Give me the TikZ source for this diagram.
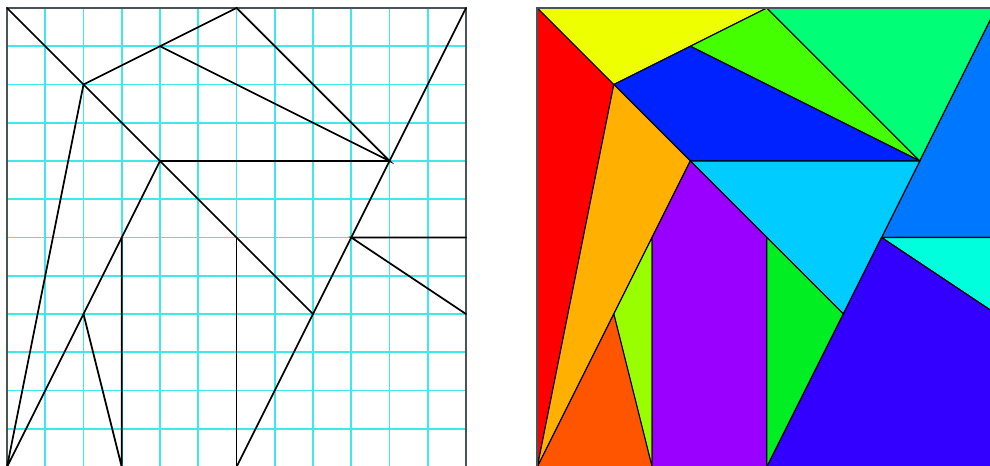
\documentclass[tikz,border=0pt]{standalone}
\usetikzlibrary{calc}

\definecolor{gridcyan}{HTML}{40E8E8}
\definecolor{framegray}{HTML}{4A5454}
\definecolor{pRed}{HTML}{FF0000}
\definecolor{pYellow}{HTML}{EEFF00}
\definecolor{pLime}{HTML}{44FF00}
\definecolor{pSpring}{HTML}{00FF77}
\definecolor{pBlue}{HTML}{0022FF}
\definecolor{pAzure}{HTML}{0077FF}
\definecolor{pAqua}{HTML}{00FFDD}
\definecolor{pSky}{HTML}{00CCFF}
\definecolor{pOrange}{HTML}{FFB000}
\definecolor{pChart}{HTML}{99FF00}
\definecolor{pDarkOrange}{HTML}{FF5500}
\definecolor{pPurple}{HTML}{9900FF}
\definecolor{pGreen}{HTML}{00EE22}
\definecolor{pIndigo}{HTML}{3300FF}

% the vertices of the crease pattern, on a 12x12 grid
\newcommand{\creasepoints}{%
  \foreach \n/\x/\y in {A/0/12, B/6/12, C/12/12, D/2/10, E/4/11, F/10/8,
      G/4/8, H/9/6, I/12/6, J/12/4, K/8/4, L/0/0, M/2/4, N/3/6, P/3/0,
      Q/6/6, R/6/0, S/12/0}
    \coordinate (\n) at (\x,\y);%
}

\tikzset{
  crease/.style={black, line width=1.3pt, line cap=round},
  frame/.style={framegray, line width=1.6pt},
  gridline/.style={gridcyan, line width=1.2pt},
  piece/.style={draw=black, line width=0.8pt, line join=round}
}

\begin{document}
\begin{tikzpicture}
    \useasboundingbox (-0.183,0.052) rectangle (25.699,12.209);
    \clip (-0.183,0.052) rectangle (25.699,12.209);

    % Left: the crease pattern on its grid
    \begin{scope}
        \creasepoints
        \foreach \k in {1,...,11} {
            \draw[gridline] (\k,0) -- (\k,12);
            \draw[gridline] (0,\k) -- (12,\k);
        }
        \draw[frame] (L) rectangle (C);

        % Draw the creases
        \draw[crease] (A) -- (K);
        \draw[crease] (D) -- (B) -- (F) -- (E);
        \draw[crease] (C) -- (R);
        \draw[crease] (G) -- (F);
        \draw[crease] (D) -- (L) -- (G);
        \draw[crease] (M) -- (P) -- (N);
        \draw[crease] (Q) -- (R);
        \draw[crease] (I) -- (H) -- (J);
    \end{scope}

    % Right: the same pattern, one colour per face
    \begin{scope}[shift={(13.864,0)}]
        \creasepoints
        \filldraw[piece, fill=pRed] (A) -- (D) -- (L) -- cycle;
        \filldraw[piece, fill=pYellow] (A) -- (B) -- (D) -- cycle;
        \filldraw[piece, fill=pLime] (E) -- (B) -- (F) -- cycle;
        \filldraw[piece, fill=pSpring] (B) -- (C) -- (F) -- cycle;
        \filldraw[piece, fill=pBlue] (D) -- (E) -- (F) -- (G) -- cycle;
        \filldraw[piece, fill=pAzure] (F) -- (C) -- (I) -- (H) -- cycle;
        \filldraw[piece, fill=pAqua] (H) -- (I) -- (J) -- cycle;
        \filldraw[piece, fill=pSky] (G) -- (F) -- (K) -- cycle;
        \filldraw[piece, fill=pOrange] (D) -- (G) -- (L) -- cycle;
        \filldraw[piece, fill=pChart] (M) -- (N) -- (P) -- cycle;
        \filldraw[piece, fill=pDarkOrange] (L) -- (M) -- (P) -- cycle;
        \filldraw[piece, fill=pPurple] (G) -- (N) -- (P) -- (R) -- (Q) -- cycle;
        \filldraw[piece, fill=pGreen] (Q) -- (K) -- (R) -- cycle;
        \filldraw[piece, fill=pIndigo] (K) -- (H) -- (J) -- (S) -- (R) -- cycle;
        \draw[frame] (L) rectangle (C);
    \end{scope}
\end{tikzpicture}
\end{document}
